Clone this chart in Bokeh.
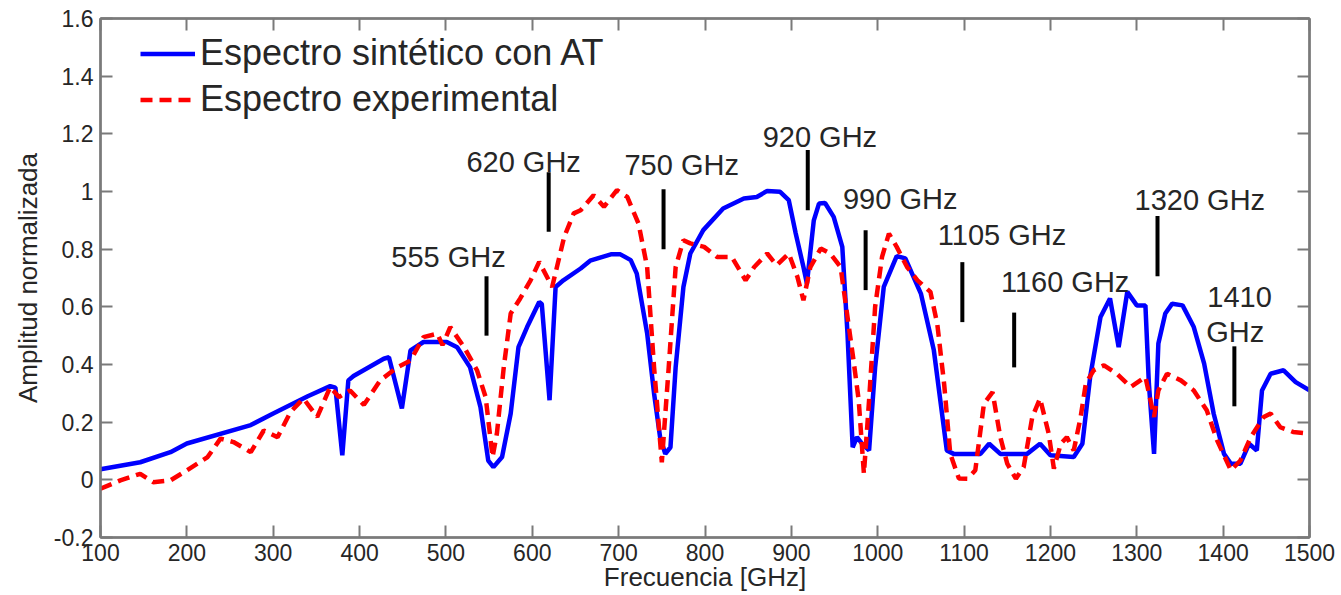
from bokeh.plotting import figure
from bokeh.models import (Legend, LegendItem, FixedTicker, LinearAxis,
                          NumeralTickFormatter, ColumnDataSource)
from bokeh.embed import file_html
from bokeh.resources import INLINE
from bokeh.core.properties import value

# ---------------- data ----------------
syn_f = [100, 146, 181, 200, 274, 300, 340, 366, 372, 380, 387, 393, 428, 434, 449,
         459, 474, 501, 513, 528, 540, 549, 555, 565, 575, 584, 594, 608, 611, 620,
         627, 636, 656, 667, 691, 702, 714, 721, 733, 741, 748, 754, 760, 766, 775,
         783, 798, 821, 845, 860, 872, 887, 897, 905, 914, 918, 926, 932, 939, 949,
         959, 965, 971, 976, 982, 990, 997, 1007, 1022, 1032, 1050, 1065, 1080, 1088,
         1119, 1129, 1142, 1173, 1188, 1200, 1227, 1237, 1246, 1258, 1269, 1279, 1289,
         1300, 1310, 1314, 1320, 1325, 1333, 1341, 1353, 1366, 1378, 1389, 1401, 1409,
         1420, 1430, 1439, 1445, 1455, 1470, 1484, 1500]
syn_a = [0.037, 0.061, 0.096, 0.126, 0.19, 0.23, 0.29, 0.325, 0.32, 0.085, 0.345, 0.36,
         0.42, 0.425, 0.248, 0.449, 0.478, 0.478, 0.46, 0.39, 0.252, 0.067, 0.044, 0.079,
         0.23, 0.46, 0.53, 0.617, 0.61, 0.276, 0.669, 0.692, 0.733, 0.76, 0.782, 0.782,
         0.762, 0.715, 0.508, 0.3, 0.148, 0.09, 0.113, 0.39, 0.669, 0.785, 0.866, 0.941,
         0.976, 0.981, 1.002, 0.999, 0.97, 0.855, 0.738, 0.681, 0.9, 0.958, 0.96, 0.912,
         0.808, 0.508, 0.113, 0.148, 0.125, 0.102, 0.39, 0.669, 0.776, 0.768, 0.646,
         0.449, 0.102, 0.09, 0.09, 0.125, 0.09, 0.09, 0.125, 0.085, 0.079, 0.125, 0.357,
         0.565, 0.629, 0.46, 0.652, 0.605, 0.605, 0.334, 0.09, 0.473, 0.577, 0.611, 0.605,
         0.53, 0.403, 0.23, 0.09, 0.056, 0.056, 0.125, 0.102, 0.31, 0.368, 0.38, 0.339,
         0.31]

exp_f = [100, 123, 146, 161, 181, 200, 224, 239, 254, 274, 289, 305, 320, 335, 351,
         366, 376, 389, 405, 424, 444, 459, 474, 490, 496, 505, 521, 536, 546, 554, 559,
         567, 575, 586, 598, 608, 623, 637, 648, 656, 671, 683, 698, 710, 723, 733, 741,
         750, 758, 766, 775, 783, 799, 814, 831, 847, 857, 872, 883, 897, 907, 914, 922,
         934, 945, 957, 965, 972, 978, 984, 990, 997, 1005, 1013, 1022, 1034, 1046, 1061,
         1069, 1077, 1084, 1094, 1104, 1113, 1123, 1133, 1142, 1150, 1160, 1169, 1179,
         1188, 1198, 1204, 1212, 1219, 1227, 1235, 1241, 1250, 1262, 1277, 1293, 1310,
         1320, 1325, 1335, 1351, 1366, 1381, 1393, 1409, 1420, 1432, 1447, 1455, 1466,
         1481, 1500]
exp_a = [-0.031, -0.002, 0.021, -0.008, -0.002, 0.033, 0.079, 0.143, 0.131, 0.096,
         0.171, 0.148, 0.235, 0.282, 0.218, 0.322, 0.287, 0.31, 0.26, 0.345, 0.391,
         0.414, 0.495, 0.507, 0.467, 0.53, 0.46, 0.38, 0.287, 0.079, 0.16, 0.391, 0.577,
         0.629, 0.692, 0.756, 0.669, 0.843, 0.924, 0.935, 0.987, 0.947, 1.005, 0.981,
         0.889, 0.738, 0.391, 0.061, 0.391, 0.738, 0.831, 0.82, 0.808, 0.773, 0.773,
         0.692, 0.738, 0.785, 0.744, 0.785, 0.704, 0.623, 0.738, 0.802, 0.785, 0.738,
         0.565, 0.414, 0.276, 0.021, 0.276, 0.6, 0.773, 0.854, 0.808, 0.738, 0.692,
         0.652, 0.54, 0.33, 0.09, 0.005, 0.004, 0.033, 0.264, 0.304, 0.148, 0.056,
         0.004, 0.044, 0.218, 0.282, 0.16, 0.039, 0.125, 0.148, 0.102, 0.218, 0.334,
         0.38, 0.397, 0.368, 0.322, 0.357, 0.218, 0.31, 0.368, 0.345, 0.31, 0.241,
         0.137, 0.033, 0.067, 0.148, 0.218, 0.23, 0.183, 0.166, 0.16]

# absorption line markers
mark_f = [547, 619, 752, 919, 986, 1098, 1158, 1324, 1413]
mark_lo = [0.50, 0.86, 0.80, 0.935, 0.658, 0.547, 0.39, 0.706, 0.255]
mark_hi = [0.706, 1.067, 1.008, 1.144, 0.866, 0.755, 0.58, 0.915, 0.463]

# marker labels
lab_text = ["555 GHz", "620 GHz", "750 GHz", "920 GHz", "990 GHz", "1105 GHz",
            "1160 GHz", "1320 GHz", "1410", "GHz"]
lab_f = [503, 590, 773, 933, 1026, 1144, 1217, 1373, 1419, 1414]
lab_a = [0.772, 1.102, 1.091, 1.189, 0.974, 0.849, 0.685, 0.97, 0.633, 0.512]

x_ticks = [100, 200, 300, 400, 500, 600, 700, 800, 900, 1000, 1100, 1200, 1300, 1400, 1500]
y_ticks = [-0.2, 0, 0.2, 0.4, 0.6, 0.8, 1.0, 1.2, 1.4, 1.6]

FONT = "Liberation Sans"
AX = "#7a7a7a"
TXT = "#262626"

p = figure(width=1341, height=595, x_range=(100, 1500), y_range=(-0.2, 1.6),
           output_backend="svg", toolbar_location=None,
           min_border_left=100, min_border_right=32, min_border_top=18,
           min_border_bottom=58)
p.xgrid.visible = False
p.ygrid.visible = False
p.outline_line_color = AX
p.outline_line_width = 2
p.background_fill_color = "white"
p.border_fill_color = "white"

def style_axis(ax, labels=True):
    ax.axis_line_color = AX
    ax.axis_line_width = 2.5
    ax.major_tick_line_color = AX
    ax.major_tick_line_width = 2
    ax.major_tick_in = 12
    ax.major_tick_out = 0
    ax.minor_tick_line_color = None
    ax.major_label_text_font = FONT
    ax.major_label_text_color = TXT
    if not labels:
        ax.major_label_text_font_size = "0px"
        ax.major_label_standoff = 0
        ax.major_label_text_alpha = 0

xax = p.xaxis[0]
xax.ticker = FixedTicker(ticks=x_ticks)
style_axis(xax)
xax.major_label_text_font_size = "23px"
xax.major_label_standoff = 6
xax.axis_label = "Frecuencia [GHz]"
xax.axis_label_text_font = FONT
xax.axis_label_text_font_size = "26px"
xax.axis_label_text_font_style = "normal"
xax.axis_label_text_color = TXT
xax.axis_label_standoff = -2

yax = p.yaxis[0]
yax.ticker = FixedTicker(ticks=y_ticks)
yax.formatter = NumeralTickFormatter(format="0.[0]")
style_axis(yax)
yax.major_label_text_font_size = "23px"
yax.major_label_standoff = 7
yax.axis_label = "Amplitud normalizada"
yax.axis_label_text_font = FONT
yax.axis_label_text_font_size = "26px"
yax.axis_label_text_font_style = "normal"
yax.axis_label_text_color = TXT
yax.axis_label_standoff = 8

top_ax = LinearAxis(ticker=FixedTicker(ticks=x_ticks))
style_axis(top_ax, labels=False)
p.add_layout(top_ax, "above")
right_ax = LinearAxis(ticker=FixedTicker(ticks=y_ticks))
style_axis(right_ax, labels=False)
p.add_layout(right_ax, "right")

syn = p.line(syn_f, syn_a, line_color="#0000ff", line_width=4.5)
exp = p.line(exp_f, exp_a, line_color="#ff0000", line_width=4.5, line_dash="12 7")

p.segment(x0=mark_f, y0=mark_lo, x1=mark_f, y1=mark_hi, line_color="black", line_width=4)

src = ColumnDataSource(dict(x=lab_f, y=lab_a, t=lab_text))
p.text(x="x", y="y", text="t", source=src, text_align="center",
       text_baseline="alphabetic", text_font=value(FONT), text_font_size="29px",
       text_color=TXT)

legend = Legend(items=[LegendItem(label="Espectro sintético con AT", renderers=[syn]),
                       LegendItem(label="Espectro experimental", renderers=[exp])],
                location=(40, 417))
legend.label_text_font = FONT
legend.label_text_font_size = "36px"
legend.label_text_color = TXT
legend.glyph_width = 55
legend.glyph_height = 41
legend.label_height = 41
legend.spacing = 4
legend.padding = 0
legend.margin = 0
legend.label_standoff = 5
legend.border_line_alpha = 0
legend.background_fill_alpha = 0
p.add_layout(legend)

open("out.html", "w").write(file_html(p, INLINE))
